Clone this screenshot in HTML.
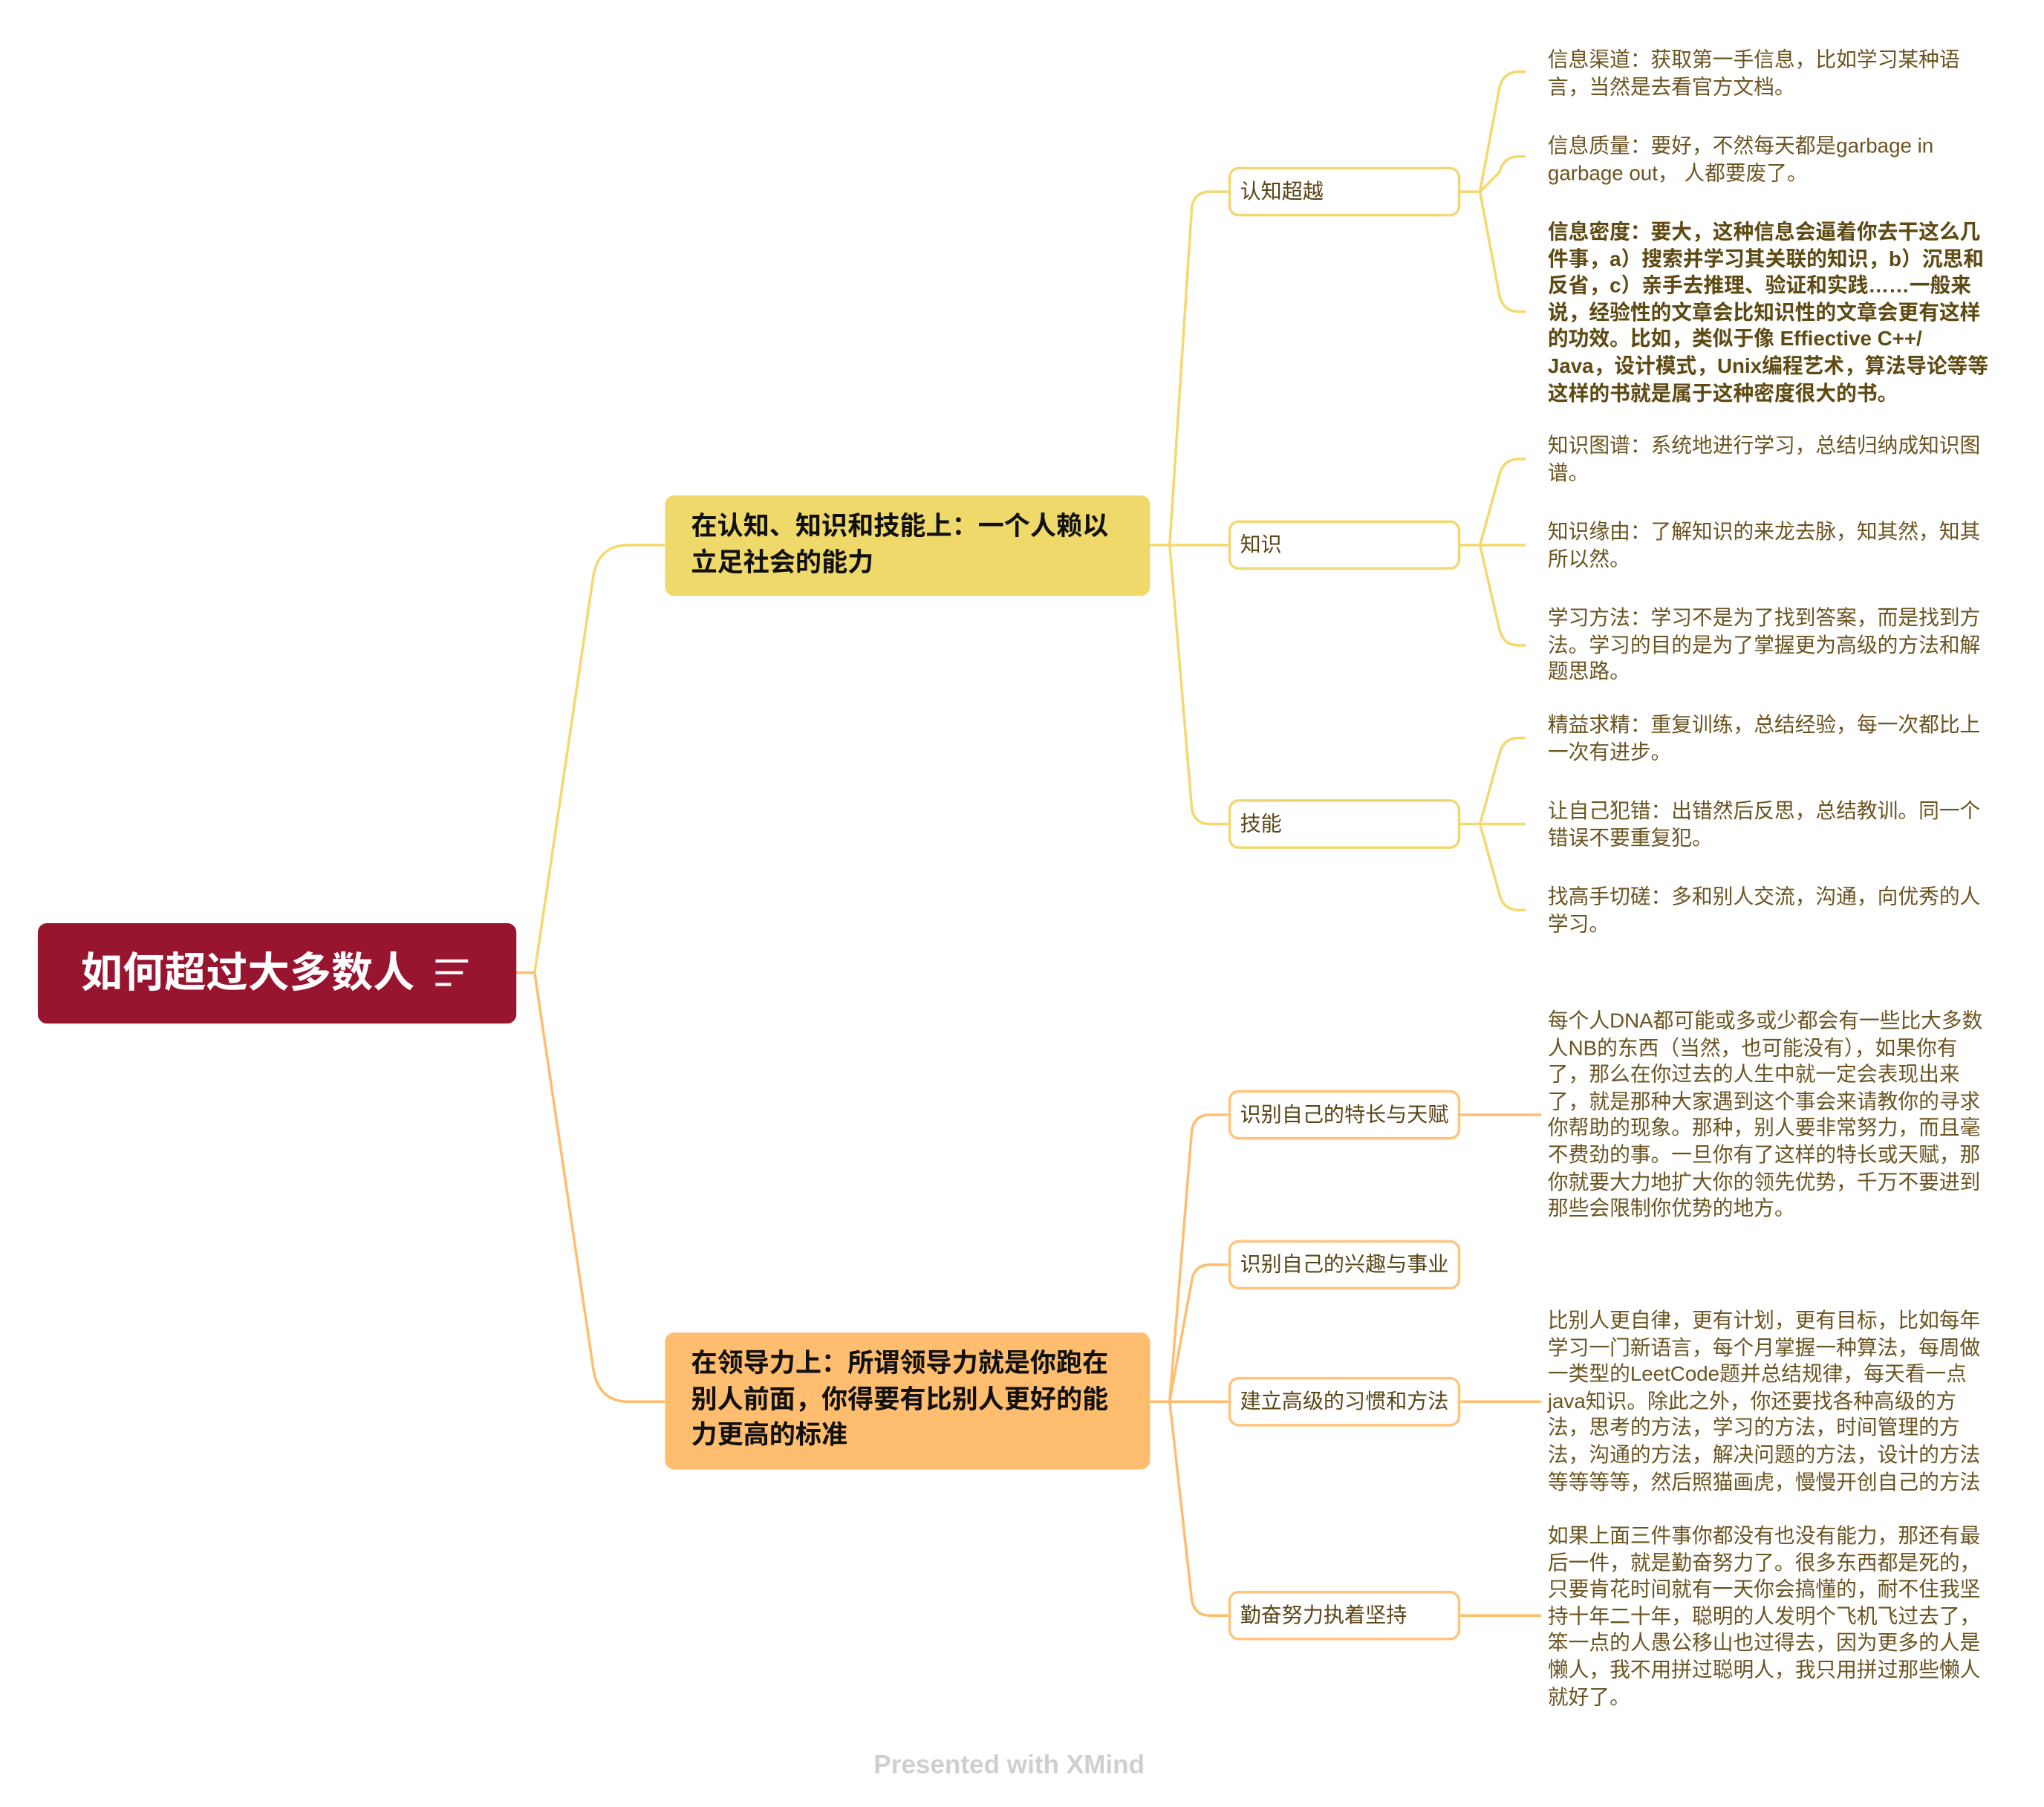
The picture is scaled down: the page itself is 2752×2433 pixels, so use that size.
<!DOCTYPE html>
<html><head><meta charset="utf-8"><style>
html,body{margin:0;padding:0;background:#fff;}
body{width:2752px;height:2432px;overflow:hidden;position:relative;}
#c{position:absolute;left:0;top:0;width:1568px;height:1386px;transform:scale(1.7556);transform-origin:0 0;font-family:"Liberation Sans","Noto Sans CJK SC",sans-serif;}
.a{position:absolute;}
.root{left:29px;top:708px;width:367px;height:77px;background:#981530;border-radius:7px;}
.root span{position:absolute;left:33px;top:18px;color:#fff;font-weight:bold;font-size:32px;line-height:40px;white-space:nowrap;}
.root svg{position:absolute;left:0;top:0;}
.br{left:510px;width:372px;border-radius:7px;}
.br div{position:absolute;left:20px;top:11px;font-weight:bold;font-size:20px;line-height:27.5px;color:#111;white-space:nowrap;}
.sub{left:942px;width:174px;height:34px;background:#fff;border-radius:8px;}
.sub span{position:absolute;left:7px;top:7px;font-size:16px;line-height:22px;color:#5a4517;white-space:nowrap;}
.y{border:2px solid #F2D873;}
.o{border:2px solid #FFC47C;}
.lf{left:1187px;font-size:15.8px;line-height:20.6px;color:#6b5420;white-space:nowrap;margin-top:2px;}
.b{font-weight:bold;color:#5e4a12;}
</style></head><body><div id="c">
<svg class="a" style="left:0;top:0" width="1552" height="1372" viewBox="0 0 1552 1372" fill="none" stroke-width="2">
<g stroke="#F5D86E">
<path d="M396 746 H410 L455 442 Q459 418 482 418 H510"/>
<path d="M882 418 H897 L914 159 Q916 147 928 147 H942"/>
<path d="M897 418 H942"/>
<path d="M897 418 L914 620 Q916 632 928 632 H942"/>
<path d="M1120 147 H1135 L1150 67 Q1153 55 1165 55 H1170"/>
<path d="M1135 147 L1150 132 Q1153 120 1165 120 H1170"/>
<path d="M1135 147 L1150 227 Q1153 239 1165 239 H1170"/>
<path d="M1120 418 H1135 L1150 364 Q1153 352 1165 352 H1170"/>
<path d="M1135 418 H1170"/>
<path d="M1135 418 L1150 483 Q1153 495 1165 495 H1170"/>
<path d="M1120 632 H1135 L1150 578 Q1153 566 1165 566 H1170"/>
<path d="M1135 632 H1170"/>
<path d="M1135 632 L1150 686 Q1153 698 1165 698 H1170"/>
</g>
<g stroke="#FFBE6F">
<path d="M396 746 H410 L455 1050 Q459 1075 482 1075 H510"/>
<path d="M882 1075 H897 L914 867 Q916 855 928 855 H942"/>
<path d="M897 1075 L914 982 Q916 970 928 970 H942"/>
<path d="M897 1075 H942"/>
<path d="M897 1075 L914 1227 Q916 1239 928 1239 H942"/>
<path d="M1120 855 H1182"/>
<path d="M1120 1075 H1182"/>
<path d="M1120 1239 H1182"/>
</g>
</svg>
<div class="a root"><span>如何超过大多数人</span><svg width="367" height="77" fill="none"><path d="M305 29 H330 M305 38 H326 M305 47 H317" stroke="#fff" stroke-width="2.4"/></svg></div>
<div class="a br" style="top:380px;height:77px;background:#F0D96B;"><div>在认知、知识和技能上：一个人赖以<br>立足社会的能力</div></div>
<div class="a br" style="top:1022px;height:105px;background:#FFBE6F;"><div>在领导力上：所谓领导力就是你跑在<br>别人前面，你得要有比别人更好的能<br>力更高的标准</div></div>

<div class="a sub y" style="top:128px"><span>认知超越</span></div>
<div class="a sub y" style="top:399px"><span>知识</span></div>
<div class="a sub y" style="top:613px"><span>技能</span></div>
<div class="a sub o" style="top:836px"><span>识别自己的特长与天赋</span></div>
<div class="a sub o" style="top:951px"><span>识别自己的兴趣与事业</span></div>
<div class="a sub o" style="top:1056px"><span>建立高级的习惯和方法</span></div>
<div class="a sub o" style="top:1220px"><span>勤奋努力执着坚持</span></div>

<div class="a lf" style="top:35px">信息渠道：获取第一手信息，比如学习某种语<br>言，当然是去看官方文档。</div>
<div class="a lf" style="top:101px">信息质量：要好，不然每天都是garbage in<br>garbage out， 人都要废了。</div>
<div class="a lf b" style="top:167px">信息密度：要大，这种信息会逼着你去干这么几<br>件事，a）搜索并学习其关联的知识，b）沉思和<br>反省，c）亲手去推理、验证和实践……一般来<br>说，经验性的文章会比知识性的文章会更有这样<br>的功效。比如，类似于像 Effiective C++/<br>Java，设计模式，Unix编程艺术，算法导论等等<br>这样的书就是属于这种密度很大的书。</div>
<div class="a lf" style="top:331px">知识图谱：系统地进行学习，总结归纳成知识图<br>谱。</div>
<div class="a lf" style="top:397px">知识缘由：了解知识的来龙去脉，知其然，知其<br>所以然。</div>
<div class="a lf" style="top:463px">学习方法：学习不是为了找到答案，而是找到方<br>法。学习的目的是为了掌握更为高级的方法和解<br>题思路。</div>
<div class="a lf" style="top:545px">精益求精：重复训练，总结经验，每一次都比上<br>一次有进步。</div>
<div class="a lf" style="top:611px">让自己犯错：出错然后反思，总结教训。同一个<br>错误不要重复犯。</div>
<div class="a lf" style="top:677px">找高手切磋：多和别人交流，沟通，向优秀的人<br>学习。</div>
<div class="a lf" style="top:772px">每个人DNA都可能或多或少都会有一些比大多数<br>人NB的东西（当然，也可能没有），如果你有<br>了，那么在你过去的人生中就一定会表现出来<br>了，就是那种大家遇到这个事会来请教你的寻求<br>你帮助的现象。那种，别人要非常努力，而且毫<br>不费劲的事。一旦你有了这样的特长或天赋，那<br>你就要大力地扩大你的领先优势，千万不要进到<br>那些会限制你优势的地方。</div>
<div class="a lf" style="top:1002px">比别人更自律，更有计划，更有目标，比如每年<br>学习一门新语言，每个月掌握一种算法，每周做<br>一类型的LeetCode题并总结规律，每天看一点<br>java知识。除此之外，你还要找各种高级的方<br>法，思考的方法，学习的方法，时间管理的方<br>法，沟通的方法，解决问题的方法，设计的方法<br>等等等等，然后照猫画虎，慢慢开创自己的方法</div>
<div class="a lf" style="top:1167px">如果上面三件事你都没有也没有能力，那还有最<br>后一件，就是勤奋努力了。很多东西都是死的，<br>只要肯花时间就有一天你会搞懂的，耐不住我坚<br>持十年二十年，聪明的人发明个飞机飞过去了，<br>笨一点的人愚公移山也过得去，因为更多的人是<br>懒人，我不用拼过聪明人，我只用拼过那些懒人<br>就好了。</div>
<div class="a" style="left:670px;top:1343px;font-size:20px;font-weight:bold;color:#cfcfcf;white-space:nowrap;">Presented with XMind</div>
</div></body></html>
